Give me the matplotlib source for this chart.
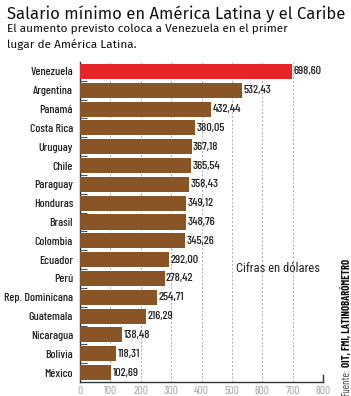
import matplotlib
matplotlib.use("Agg")
import matplotlib.pyplot as plt
from matplotlib import font_manager

countries = ["Venezuela", "Argentina", "Panamá", "Costa Rica", "Uruguay", "Chile",
             "Paraguay", "Honduras", "Brasil", "Colombia", "Ecuador", "Perú",
             "Rep. Dominicana", "Guatemala", "Nicaragua", "Bolivia", "México"]
values = [698.60, 532.43, 432.44, 380.05, 367.18, 365.54, 358.43, 349.12, 348.76,
          345.26, 292.00, 278.42, 254.71, 216.29, 138.48, 118.31, 102.69]
value_labels = ["698,60", "532,43", "432,44", "380,05", "367,18", "365,54", "358,43",
                "349,12", "348,76", "345,26", "292,00", "278,42", "254,71", "216,29",
                "138,48", "118,31", "102,69"]
xticks = [0, 100, 200, 300, 400, 500, 600, 700, 800]

names = {f.name for f in font_manager.fontManager.ttflist}
def pick(cands):
    for c in cands:
        if c in names:
            return c
    return "DejaVu Sans"
narrow = pick(["Barlow Condensed", "Roboto Condensed", "Fira Sans Condensed",
               "Archivo Narrow", "PT Sans Narrow"])
semi = pick(["Roboto Condensed", "Barlow Semi Condensed", "Fira Sans Condensed", narrow])
regular = pick(["Fira Sans", "Source Sans 3", "Source Sans Pro", "Roboto", "Lato"])

fig = plt.figure(figsize=(3.51, 3.96), dpi=100)
renderer = fig.canvas.get_renderer()

def fit(t, target_px, horizontal=True):
    for _ in range(3):
        bb = t.get_window_extent(renderer=renderer)
        w = bb.width if horizontal else bb.height
        if w > 0:
            t.set_fontsize(t.get_fontsize() * target_px / w)
    return t

ax = fig.add_axes([80/351, 1-382/396, (323-80)/351, (382-62)/396])

n = len(countries)
ypos = list(range(n))
colors = ["#e8242b"] + ["#8a5526"] * (n - 1)
ax.barh(ypos, values, height=0.8, color=colors, zorder=3)
ax.set_ylim(n - 0.5, -0.5)
ax.set_xlim(0, 800)

probe = ax.text(0, 0, "698,60", fontsize=8, family=narrow, fontweight="medium")
fit(probe, 28)
vfs = probe.get_fontsize()
probe.remove()
for y, v, lab in zip(ypos, values, value_labels):
    ax.text(v + 5, y, lab, va="center", ha="left", fontsize=vfs, family=narrow,
            fontweight="medium", color="#222222")

probe = fig.text(0, 0, "Rep. Dominicana", fontsize=9, family=narrow, fontweight="medium")
fit(probe, 69)
yfs = probe.get_fontsize()
probe.remove()
ax.set_yticks(ypos)
ax.set_yticklabels(countries, fontsize=yfs, family=narrow, fontweight="medium",
                   color="#222222")
ax.tick_params(axis="y", length=0, pad=5)
for b in range(n - 1):
    ax.plot([0, 23], [b + 0.5, b + 0.5], color="#555555", lw=0.8, zorder=4,
            solid_capstyle="butt")

probe = fig.text(0, 0, "800", fontsize=8, family=narrow)
fit(probe, 15)
xfs = probe.get_fontsize()
probe.remove()
ax.set_xticks(xticks)
ax.set_xticklabels([str(t) for t in xticks], fontsize=xfs, family=narrow, color="#a0a0a0")
ax.tick_params(axis="x", length=0, pad=3)
ax.grid(axis="x", linestyle=(0, (2, 2)), color="#aaaaaa", lw=0.7, zorder=0)
for s in ["top", "right"]:
    ax.spines[s].set_visible(False)
for s in ["left", "bottom"]:
    ax.spines[s].set_color("#333333")
    ax.spines[s].set_linewidth(1.0)
ax.plot([800, 800], [n - 0.5, n - 0.85], color="#333333", lw=1.0, clip_on=False)

t = ax.text(0.815, 0.356, "Cifras en dólares", transform=ax.transAxes, fontsize=9,
            family=semi, ha="center", va="center", color="#222222")
fit(t, 84)

t = fig.text(7/351, 1-14/396, "Salario mínimo en América Latina y el Caribe", fontsize=12,
             ha="left", va="center", color="#111111", family=regular)
fit(t, 338)
t = fig.text(7/351, 1-29/396, "El aumento previsto coloca a Venezuela en el primer",
             fontsize=9, ha="left", va="center", color="#111111", family=regular)
fit(t, 283)
fs_sub = t.get_fontsize()
fig.text(7/351, 1-45/396, "lugar de América Latina.",
         fontsize=fs_sub, ha="left", va="center", color="#111111", family=regular)

t2 = fig.text(346/351, 1-382/396, "OIT, FMI, LATINOBARÓMETRO", rotation=90, fontsize=6,
              family=narrow, fontweight="bold", ha="center", va="bottom", color="#111111")
fit(t2, 108, horizontal=False)
t1 = fig.text(346/351, 1-396/396, "Fuente:", rotation=90, fontsize=t2.get_fontsize(),
              family=narrow, ha="center", va="bottom", color="#444444")
bb = t1.get_window_extent(renderer=renderer)
t2.set_y((bb.y1 + 2) / fig.bbox.height)

fig.savefig("out.png", dpi=100)
